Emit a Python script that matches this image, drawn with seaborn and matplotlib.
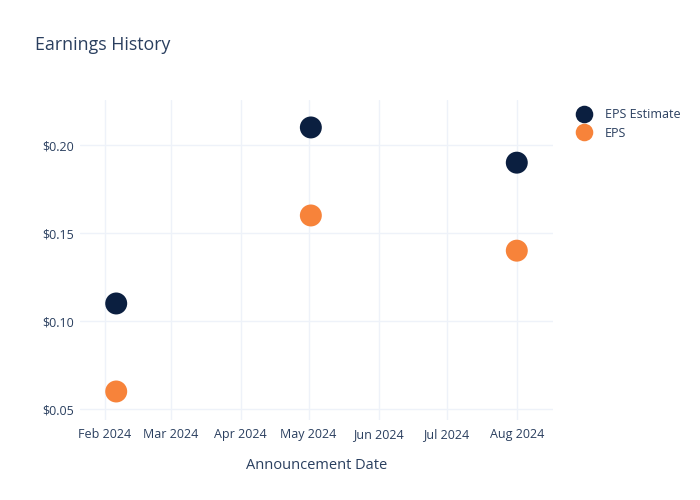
import matplotlib
matplotlib.use("Agg")
import matplotlib.pyplot as plt
import matplotlib.dates as mdates
import pandas as pd
import seaborn as sns

# values
dates = ["2024-02-06", "2024-05-02", "2024-08-01"]
eps_estimate = [0.11, 0.21, 0.19]
eps_actual = [0.06, 0.16, 0.14]
series_names = ["EPS Estimate", "EPS"]
y_ticks = [0.05, 0.10, 0.15, 0.20]

TEXT = "#2a3f5f"
GRID = "#eef2f9"
palette = {"EPS Estimate": "#0b1f40", "EPS": "#f7833a"}

df = pd.concat(
    [
        pd.DataFrame({"date": pd.to_datetime(dates), "value": eps_estimate, "series": series_names[0]}),
        pd.DataFrame({"date": pd.to_datetime(dates), "value": eps_actual, "series": series_names[1]}),
    ],
    ignore_index=True,
)

sns.set_style("white")
plt.rcParams["font.family"] = ["Open Sans", "DejaVu Sans"]

fig = plt.figure(figsize=(7, 5), dpi=100)
ax = fig.add_axes([80 / 700, 80 / 500, 473 / 700, 320 / 500])

sns.scatterplot(
    data=df,
    x="date",
    y="value",
    hue="series",
    hue_order=series_names,
    palette=palette,
    s=250,
    linewidth=0,
    ax=ax,
    zorder=3,
)

ax.set_xlim(pd.Timestamp("2024-01-21"), pd.Timestamp("2024-08-17"))
ax.set_ylim(0.0438, 0.2256)
ax.set_yticks(y_ticks)
ax.yaxis.set_major_formatter(matplotlib.ticker.FuncFormatter(lambda v, p: f"${v:.2f}"))
ax.xaxis.set_major_locator(mdates.MonthLocator())
ax.xaxis.set_major_formatter(mdates.DateFormatter("%b %Y"))

ax.grid(True, color=GRID, linewidth=1)
ax.set_axisbelow(True)
for sp in ax.spines.values():
    sp.set_visible(False)
ax.tick_params(axis="both", length=0, labelsize=9, colors=TEXT)
ax.tick_params(axis="y", pad=4)
ax.tick_params(axis="x", pad=6)

ax.set_xlabel("Announcement Date", fontsize=10.5, color=TEXT, labelpad=12)
ax.set_ylabel("")

fig.text(35 / 700, 1 - 45 / 500, "Earnings History", fontsize=12.75, color=TEXT, va="center", ha="left")

ax.legend(
    loc="upper left",
    bbox_to_anchor=(571 / 700, 1 - 108 / 500),
    bbox_transform=fig.transFigure,
    frameon=False,
    fontsize=9,
    labelcolor=TEXT,
    handletextpad=0.7,
    labelspacing=0.45,
    markerscale=0.8,
    borderaxespad=0,
    borderpad=0,
)

fig.savefig("out.png", dpi=100)
